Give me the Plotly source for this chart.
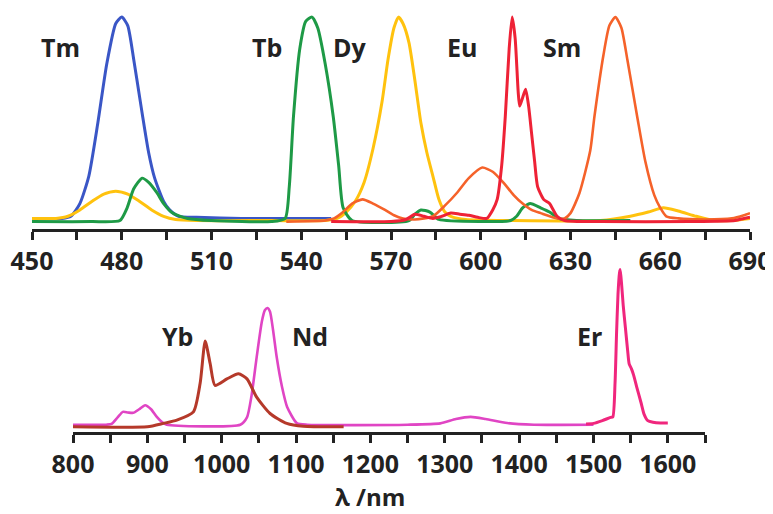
import plotly.graph_objects as go

# ---------------- top panel (visible emitters) ----------------
tm_x = [450, 460, 463, 466, 469, 472, 475, 478, 480, 482, 484, 486, 487, 489, 491, 494, 496, 499, 505, 520, 540, 550]
tm_y = [0.05, 0.05, 0.06, 0.12, 0.25, 0.5, 0.78, 0.97, 1.0, 0.96, 0.8, 0.62, 0.53, 0.36, 0.24, 0.13, 0.09, 0.06, 0.055, 0.05, 0.05, 0.05]

tb_x = [450, 470, 479.4, 481.8, 484, 486.8, 489, 491.8, 494, 497, 502, 510, 530, 534.6, 536, 537.4, 539.5, 541.5, 543.6, 545.5, 548, 550.7, 552.5, 554, 557,
        576, 578, 580, 583, 586, 600, 610, 612, 614, 616.5, 620, 623, 626, 632, 650]
tb_y = [0.035, 0.035, 0.04, 0.1, 0.19, 0.24, 0.22, 0.17, 0.12, 0.075, 0.05, 0.04, 0.035, 0.05, 0.2, 0.53, 0.85, 0.98, 1.0, 0.95, 0.78, 0.53, 0.3, 0.1, 0.04,
        0.04, 0.07, 0.09, 0.08, 0.045, 0.035, 0.04, 0.06, 0.1, 0.12, 0.1, 0.08, 0.05, 0.04, 0.04]

dy_x = [450, 458, 462, 466, 470, 474, 478, 482, 486, 490, 494, 498, 505, 530, 548, 552, 555, 558, 561, 564, 567, 569, 571, 572.5, 574, 576, 578, 580,
        582, 584, 586, 588, 590, 595, 610, 640, 650, 656, 661, 666, 672, 678, 684, 690]
dy_y = [0.05, 0.05, 0.06, 0.09, 0.13, 0.165, 0.178, 0.165, 0.13, 0.09, 0.06, 0.045, 0.04, 0.04, 0.04, 0.05, 0.08, 0.13, 0.22, 0.38, 0.6, 0.8, 0.95, 1.0,
        0.97, 0.88, 0.7, 0.5, 0.36, 0.25, 0.14, 0.08, 0.06, 0.045, 0.04, 0.04, 0.06, 0.08, 0.1, 0.085, 0.06, 0.04, 0.04, 0.05]

eu_x = [550, 570, 575, 578, 581, 584, 587, 590, 593, 596, 599, 602, 604, 605.5, 607, 608.2, 609.5, 610.5, 611.5, 612.5, 613, 614, 615, 616, 617, 618,
        619, 621, 623, 625.5, 628, 640, 670, 685, 688, 690]
eu_y = [0.035, 0.035, 0.045, 0.07, 0.06, 0.05, 0.06, 0.075, 0.07, 0.065, 0.055, 0.05, 0.09, 0.14, 0.3, 0.53, 0.85, 1.0, 0.9, 0.65, 0.58, 0.62, 0.66, 0.58,
        0.45, 0.32, 0.2, 0.14, 0.12, 0.06, 0.04, 0.035, 0.035, 0.04, 0.05, 0.055]

sm_x = [535, 548, 551, 554, 557, 560.5, 564, 568, 571, 574, 578, 584, 588, 592, 596, 600.5, 604, 607.5, 611, 614, 617, 620, 625.5, 628, 630, 633, 636.6,
        638, 641, 643, 645, 647, 649, 652.3, 655, 658, 660, 662, 666, 675, 684, 688, 690]
sm_y = [0.035, 0.04, 0.05, 0.08, 0.12, 0.14, 0.12, 0.09, 0.065, 0.05, 0.045, 0.06, 0.11, 0.17, 0.24, 0.29, 0.27, 0.22, 0.16, 0.12, 0.09, 0.075, 0.05, 0.05,
        0.075, 0.17, 0.37, 0.53, 0.82, 0.96, 1.0, 0.95, 0.8, 0.53, 0.32, 0.16, 0.1, 0.06, 0.05, 0.045, 0.05, 0.065, 0.075]

# ---------------- bottom panel (NIR emitters) ----------------
yb_x = [800, 900, 921.7, 939.6, 962, 971, 977.8, 984.5, 991, 1007, 1022.6, 1034, 1047, 1065, 1087.5, 1110, 1164]
yb_y = [0.032, 0.032, 0.053, 0.073, 0.124, 0.3, 0.56, 0.42, 0.287, 0.327, 0.358, 0.327, 0.215, 0.114, 0.053, 0.035, 0.032]

nd_x = [800, 845, 852, 860, 867, 874, 881, 889, 897, 905, 912.7, 920, 926, 1025, 1034, 1040, 1047, 1054, 1058, 1061.7, 1065, 1069, 1074, 1081, 1088,
        1101, 1115, 1250, 1294, 1315, 1334.7, 1355, 1384, 1420, 1500]
nd_y = [0.045, 0.045, 0.05, 0.09, 0.124, 0.12, 0.118, 0.14, 0.165, 0.14, 0.093, 0.06, 0.045, 0.045, 0.09, 0.22, 0.46, 0.68, 0.75, 0.764, 0.74, 0.63, 0.46,
        0.28, 0.154, 0.055, 0.045, 0.045, 0.053, 0.08, 0.093, 0.08, 0.055, 0.045, 0.045]

er_x = [1490, 1500, 1512, 1523, 1526, 1529, 1531, 1533, 1535, 1536, 1538, 1540, 1543, 1546, 1548, 1551, 1554, 1558, 1564, 1568, 1573, 1580, 1590, 1600]
er_y = [0.05, 0.053, 0.07, 0.09, 0.093, 0.3, 0.6, 0.85, 0.98, 1.0, 0.9, 0.78, 0.64, 0.5, 0.42, 0.39, 0.35, 0.28, 0.18, 0.11, 0.07, 0.06, 0.055, 0.055]

top_labels = ["Tm", "Tb", "Dy", "Eu", "Sm"]
top_label_x = [459.4, 528.6, 556.4, 593.8, 627.3]
top_label_y = [0.86, 0.86, 0.86, 0.86, 0.86]
bot_labels = ["Yb", "Nd", "Er"]
bot_label_x = [939.9, 1118.8, 1495]
bot_label_y = [0.59, 0.59, 0.59]

top_ticks = [450, 480, 510, 540, 570, 600, 630, 660, 690]
bot_ticks = [800, 900, 1000, 1100, 1200, 1300, 1400, 1500, 1600]

# page body has an 8px margin; figure sized/positioned to compensate
W, H, OFF = 765, 506, 8

def px_x(sx):
    return (sx - OFF) / W

def px_y(sy):
    return (H - (sy - OFF)) / H

fig = go.Figure()

def add(x, y, color, xa, ya, w=3):
    fig.add_trace(go.Scatter(x=x, y=y, mode="lines", xaxis=xa, yaxis=ya,
                             line=dict(color=color, width=w, shape="spline", smoothing=0.6),
                             hoverinfo="skip", showlegend=False))

add(tm_x, tm_y, "#3A56C6", "x", "y")
add(dy_x, dy_y, "#FFC20E", "x", "y")
add(tb_x, tb_y, "#1E9A46", "x", "y")
add(sm_x, sm_y, "#F5622A", "x", "y", 2.6)
add(eu_x, eu_y, "#EE2236", "x", "y")

add(nd_x, nd_y, "#E045C4", "x2", "y2", 2.6)
add(yb_x, yb_y, "#B5392A", "x2", "y2")
add(er_x, er_y, "#F0267D", "x2", "y2")

font_tick = dict(family="Open Sans", size=25, color="#222222", weight="bold")
label_font = dict(family="Open Sans", size=25, color="#222222", weight="bold")
title_font = dict(family="Open Sans", size=24, color="#222222", weight="bold")

axis_common = dict(showline=True, linewidth=3, linecolor="#222222", ticks="outside",
                   ticklen=8, tickwidth=2.5, tickcolor="#222222", showgrid=False,
                   zeroline=False, tickfont=font_tick, ticklabelstandoff=0, automargin=False)

fig.update_layout(
    width=W, height=H,
    margin=dict(l=0, r=0, t=0, b=0, autoexpand=False),
    paper_bgcolor="white", plot_bgcolor="white",
    xaxis=dict(domain=[px_x(32), px_x(750)], range=[450, 690], tickvals=top_ticks,
               minor=dict(ticks="outside", dtick=15, tick0=450, ticklen=8, tickwidth=2.5, tickcolor="#222222"),
               anchor="y", **axis_common),
    yaxis=dict(domain=[px_y(229), px_y(15)], range=[0, 1.01], visible=False, automargin=False),
    xaxis2=dict(domain=[px_x(73), px_x(705)], range=[800, 1650], tickvals=bot_ticks,
                minor=dict(ticks="outside", dtick=50, tick0=800, ticklen=8, tickwidth=2.5, tickcolor="#222222"),
                anchor="y2", **axis_common),
    yaxis2=dict(domain=[px_y(432), px_y(268)], range=[0, 1.01], visible=False, automargin=False),
)

for t, x, y in zip(top_labels, top_label_x, top_label_y):
    fig.add_annotation(text=t, x=x, y=y, xref="x", yref="y", showarrow=False, font=label_font)
for t, x, y in zip(bot_labels, bot_label_x, bot_label_y):
    fig.add_annotation(text=t, x=x, y=y, xref="x2", yref="y2", showarrow=False, font=label_font)

fig.add_annotation(text="λ /nm", x=px_x(370), y=px_y(496), xref="paper", yref="paper",
                   xanchor="center", yanchor="middle", showarrow=False, font=title_font)

fig.write_html("out.html")
